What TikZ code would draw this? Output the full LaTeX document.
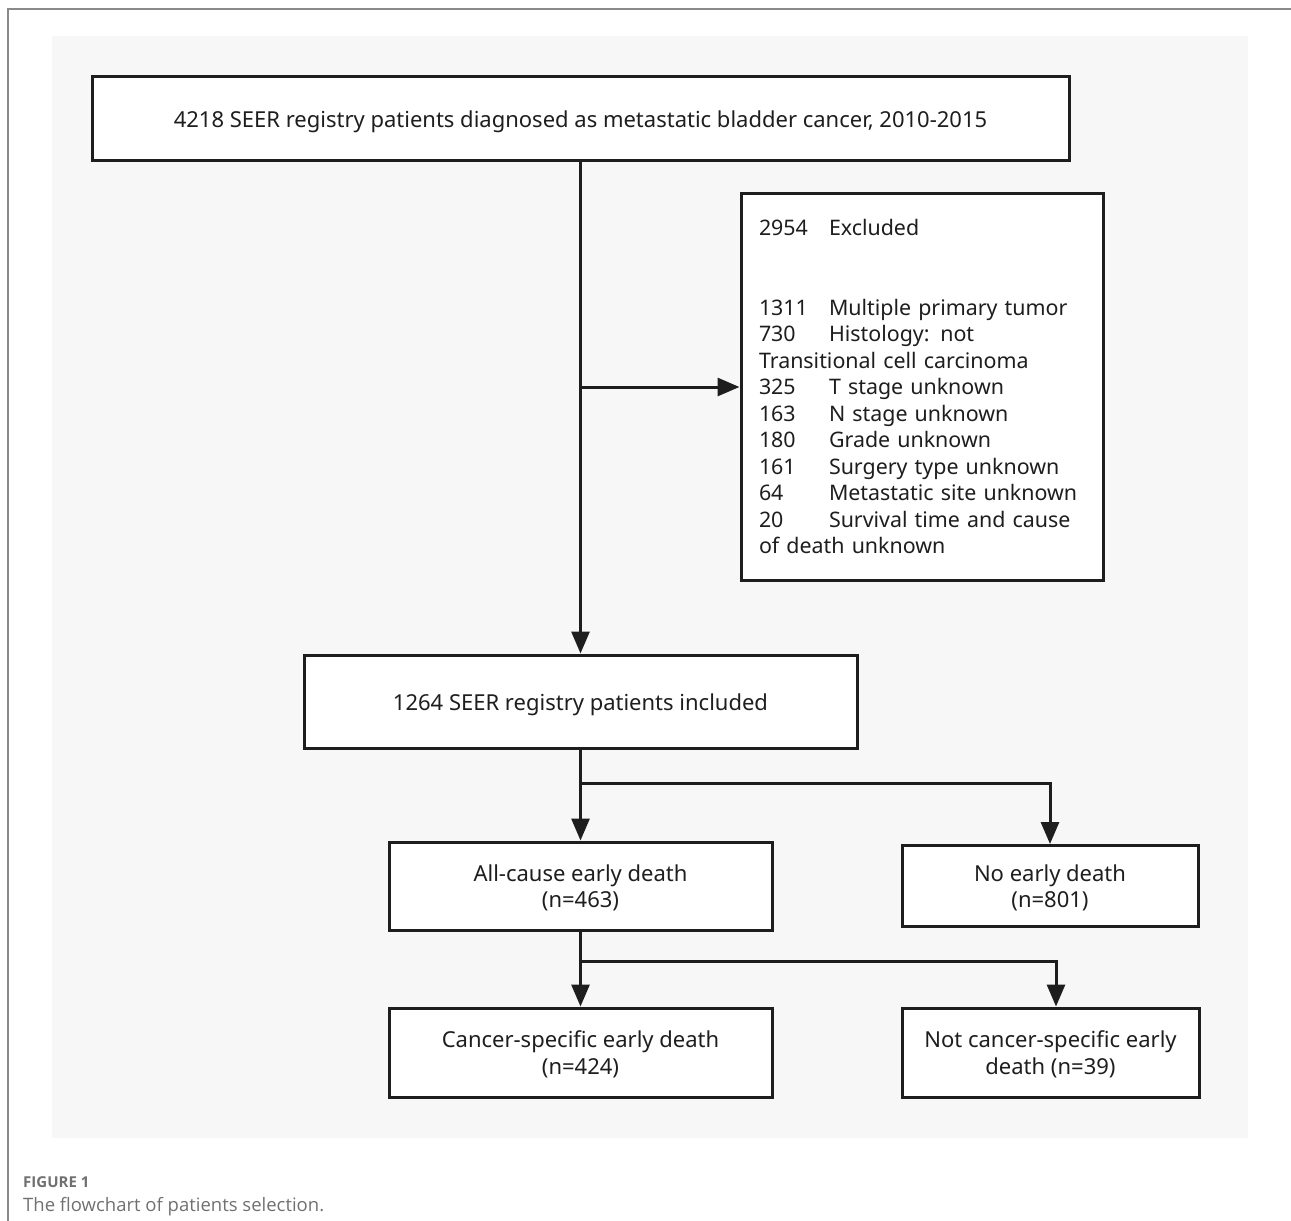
\documentclass[tikz,border=0pt]{standalone}
\usepackage{fontspec}
\setmainfont{Noto Sans}
\newfontfamily\capfont{Open Sans}
\usetikzlibrary{arrows.meta}
\definecolor{panelbg}{HTML}{F7F7F7}
\definecolor{framegray}{HTML}{8A8A8A}
\definecolor{capgray}{HTML}{707070}
\definecolor{ink}{HTML}{1E1E1E}
\newcommand{\lowstrut}[1]{\rule{0pt}{#1}}
\begin{document}
\begin{tikzpicture}[x=1pt,y=-1pt,
  box/.style={draw=ink,line width=3pt,fill=white,inner sep=0pt,align=center,
    font=\fontsize{22}{26.5}\selectfont,text=ink},
  conn/.style={draw=ink,line width=3pt},
  arr/.style={conn,-{Triangle[length=22pt,width=18pt]}},
]
\useasboundingbox (0,0) rectangle (1291,1221);
% frame and panel
\fill[panelbg] (52,36) rectangle (1248,1138);
\draw[framegray,line width=1.6pt] (8,1221) -- (8,9) -- (1291,9);
% boxes
\node[box,minimum width=977pt,minimum height=84pt] (top) at (580.5,118)
  {\lowstrut{24pt}4218 SEER registry patients diagnosed as metastatic bladder cancer, 2010-2015};
\node[box,minimum width=362pt,minimum height=387pt,text width=326pt,inner xsep=18pt,align=left,
  font=\fontsize{21.4}{26.5}\selectfont] (excl) at (922,386.5)
  {\makebox[70pt][l]{2954}Excluded\\[53pt]
   \makebox[70pt][l]{1311}Multiple primary tumor\\
   \makebox[70pt][l]{730}Histology: not\\
   Transitional cell carcinoma\\
   \makebox[70pt][l]{325}T stage unknown\\
   \makebox[70pt][l]{163}N stage unknown\\
   \makebox[70pt][l]{180}Grade unknown\\
   \makebox[70pt][l]{161}Surgery type unknown\\
   \makebox[70pt][l]{64}Metastatic site unknown\\
   \makebox[70pt][l]{20}Survival time and cause\\
   of death unknown};
\node[box,minimum width=553pt,minimum height=93pt] (incl) at (580.5,701.5)
  {\lowstrut{24pt}1264 SEER registry patients included};
\node[box,minimum width=383pt,minimum height=88pt] (allc) at (580.5,886)
  {\lowstrut{20pt}All-cause early death\\(n=463)};
\node[box,minimum width=296pt,minimum height=81pt] (noed) at (1050,886)
  {\lowstrut{20pt}No early death\\(n=801)};
\node[box,minimum width=383pt,minimum height=89pt] (csed) at (580.5,1052.5)
  {\lowstrut{20pt}Cancer-specific early death\\(n=424)};
\node[box,minimum width=297pt,minimum height=89pt] (ncsed) at (1050.5,1052.5)
  {\lowstrut{20pt}Not cancer-specific early\\death (n=39)};
% connectors
\coordinate (j1) at (580.5,387);
\draw[arr] (top.south) -- (incl.north);
\draw[arr] (j1) -- (excl.west |- j1);
\coordinate (j2) at (580.5,783);
\draw[conn] (incl.south) -- (j2);
\draw[arr] (j2) -- (allc.north);
\draw[arr] (j2) -| (noed.north);
\coordinate (j3) at (580.5,961);
\draw[conn] (allc.south) -- (j3);
\draw[arr] (j3) -- (csed.north);
\draw[arr] (j3) -| ([xshift=5.5pt]ncsed.north);
% caption
\node[anchor=base west,inner sep=0pt,text=capgray,font=\capfont\bfseries\fontsize{15}{18}\selectfont] (cap1) at (23,1187) {FIGURE 1};
\node[anchor=base west,inner sep=0pt,text=capgray,font=\capfont\fontsize{18.5}{22}\selectfont] (cap2) at (23,1211) {The flowchart of patients selection.};
\end{tikzpicture}
\end{document}
